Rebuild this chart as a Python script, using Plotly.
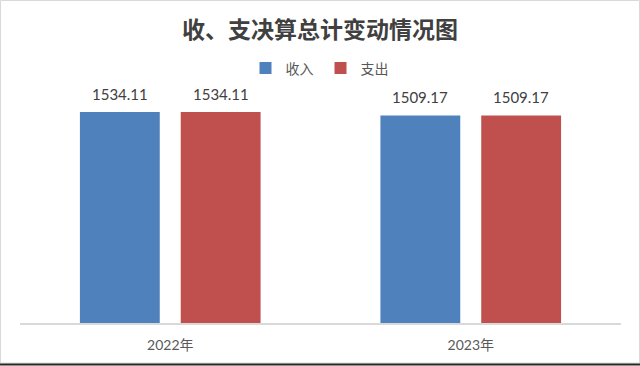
import plotly.graph_objects as go

categories = ["2022年", "2023年"]
income = [1534.11, 1509.17]
expense = [1534.11, 1509.17]
series_names = ["收入", "支出"]
series_colors = ["#4F81BD", "#C0504D"]

W, H = 640, 366
L, R, T, B = 20, 19, 75, 43
pw, ph = W - L - R, H - T - B

def px_x(x):
    return (x - L) / pw

def px_y(y):
    return (H - B - y) / ph

fig = go.Figure()
for name, vals, col in zip(series_names, [income, expense], series_colors):
    fig.add_trace(go.Bar(
        x=categories, y=vals, name=name,
        marker=dict(color=col, line=dict(width=0)),
    ))

# data labels placed above each bar (group offset = half slot width)
slot_px = 101
label_font = dict(size=15, color="#404040", family="Lato, Noto Sans CJK SC")
annotations = []
for i, vals in enumerate([income, expense]):
    offset = (i - 0.5) * slot_px
    for c, v in zip(categories, vals):
        annotations.append(dict(
            x=c, y=v, xref="x", yref="y", text=f"{v:.2f}", showarrow=False,
            xshift=offset, yshift=18, yanchor="middle", xanchor="center",
            font=label_font,
        ))

shapes = [
    dict(type="rect", xref="paper", yref="paper",
         x0=px_x(0.5), x1=px_x(639.5), y0=px_y(363), y1=px_y(0.5),
         line=dict(color="#D9D9D9", width=1), layer="below"),
    dict(type="line", xref="paper", yref="paper",
         x0=px_x(0), x1=px_x(640), y0=px_y(364.5), y1=px_y(364.5),
         line=dict(color="#262626", width=2)),
]

fig.update_layout(
    width=W, height=H,
    margin=dict(l=L, r=R, t=T, b=B, pad=0),
    paper_bgcolor="white", plot_bgcolor="white",
    title=dict(text="<b>收、支决算总计变动情况图</b>", x=0.5, xanchor="center",
               y=1 - 30 / H, yanchor="middle",
               font=dict(size=23, color="#404040", family="Noto Sans CJK SC")),
    barmode="group", bargap=0.329, bargroupgap=0.208,
    showlegend=True,
    legend=dict(orientation="h", x=0.5, xanchor="center", y=px_y(68.5), yanchor="middle",
                font=dict(size=14, color="#595959", family="Noto Sans CJK SC"),
                itemwidth=30, traceorder="normal", entrywidth=30, entrywidthmode="pixels",
                bgcolor="rgba(0,0,0,0)"),
    xaxis=dict(showline=True, linecolor="#D9D9D9", linewidth=1.5, ticks="",
               tickfont=dict(size=14, color="#595959", family="Lato, Noto Sans CJK SC"),
               ticklabelstandoff=8,
               showgrid=False, zeroline=False),
    yaxis=dict(range=[0, 1803], visible=False, showgrid=False, zeroline=False),
    shapes=shapes,
    annotations=annotations,
    font=dict(family="Noto Sans CJK SC"),
)

fig.write_html("out.html", config={"displayModeBar": False},
               post_script="document.body.style.margin='0';document.body.style.overflow='hidden';")
